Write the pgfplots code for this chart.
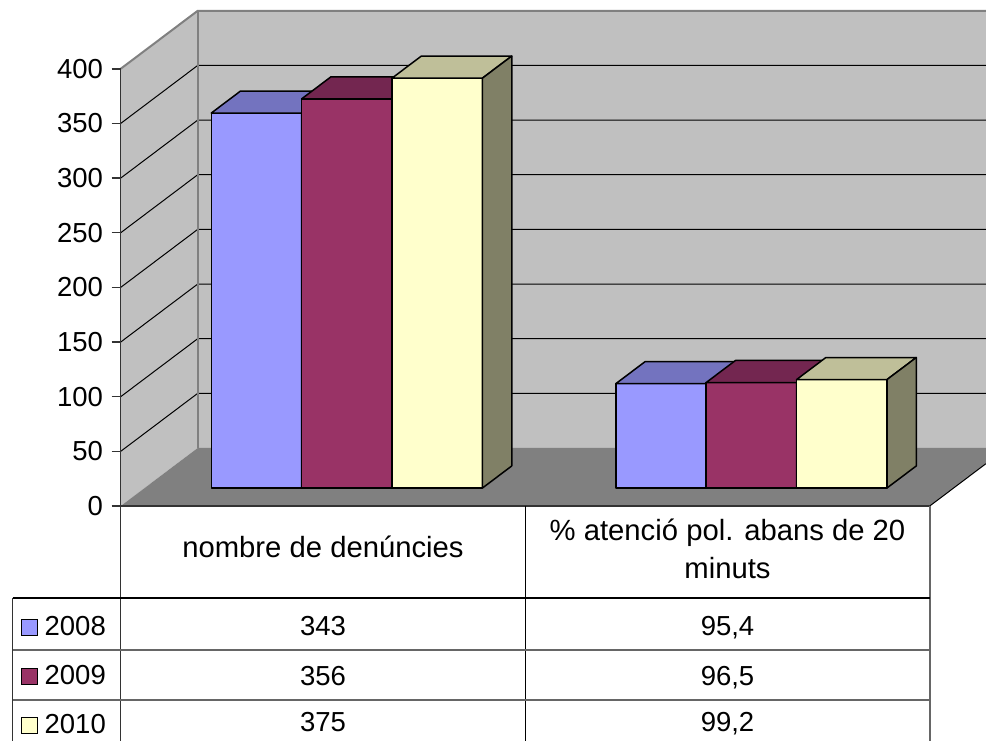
\documentclass[border=0pt]{standalone}
\usepackage{pgfplots}
\pgfplotsset{compat=1.18}
\usepackage{fontspec}
\setmainfont{Liberation Sans}

\definecolor{c08}{HTML}{9999FF}
\definecolor{c08t}{HTML}{7373BF}
\definecolor{c08s}{HTML}{5C5C99}
\definecolor{c09}{HTML}{993366}
\definecolor{c09t}{HTML}{732650}
\definecolor{c09s}{HTML}{4D1A33}
\definecolor{c10}{HTML}{FFFFCC}
\definecolor{c10t}{HTML}{BFBF99}
\definecolor{c10s}{HTML}{808066}
\definecolor{wall}{HTML}{C0C0C0}
\definecolor{floorc}{HTML}{808080}
\definecolor{edgec}{HTML}{808080}

\newcommand{\tfont}{\fontsize{11.7}{14}\selectfont}
\newcommand{\nfont}{\fontsize{11}{13}\selectfont}

% one 3D bar: x0, x1, value, front, top, side colour
\newcommand{\cuboid}[6]{%
  \addplot3[fill=#4, draw=black, line width=0.6pt, line join=round]
    coordinates {(#1,0.31,0) (#2,0.31,0) (#2,0.31,#3) (#1,0.31,#3)} -- cycle;
  \addplot3[fill=#5, draw=black, line width=0.6pt, line join=round]
    coordinates {(#1,0.31,#3) (#2,0.31,#3) (#2,0.69,#3) (#1,0.69,#3)} -- cycle;
  \addplot3[fill=#6, draw=black, line width=0.6pt, line join=round]
    coordinates {(#2,0.31,0) (#2,0.69,0) (#2,0.69,#3) (#2,0.31,#3)} -- cycle;
}

\begin{document}
\begin{tikzpicture}
% 3D part: walls, floor, grid and bars
\begin{axis}[
  anchor=origin, at={(0,0)},
  x={(161.8pt,0pt)}, y={(30.8pt,23.2pt)}, z={(0pt,0.4372pt)},
  xmin=-0.5, xmax=1.5, ymin=0, ymax=1, zmin=0, zmax=400,
  hide axis, clip=false,
]
\addplot3[fill=wall, draw=none] coordinates {(-0.5,0,0) (-0.5,1,0) (-0.5,1,400) (-0.5,0,400)} -- cycle;
\addplot3[fill=wall, draw=none] coordinates {(-0.5,1,0) (1.4487,1,0) (1.4487,1,400) (-0.5,1,400)} -- cycle;
\addplot3[fill=floorc, draw=none] coordinates {(-0.5,0,0) (1.5,0,0) (1.5,0.7273,0) (1.4487,1,0) (-0.5,1,0)} -- cycle;
\addplot3[black, line width=0.4pt] coordinates {(1.5,0,0) (1.5,0.7273,0)};
\pgfplotsinvokeforeach{50,100,...,350}{
  \addplot3[black, line width=0.4pt] coordinates {(-0.5,0,#1) (-0.5,1,#1) (1.4487,1,#1)};
}
\addplot3[edgec, line width=0.8pt] coordinates {(-0.5,0,400) (-0.5,1,400) (1.4487,1,400)};
\addplot3[edgec, line width=0.8pt] coordinates {(-0.5,1,0) (-0.5,1,400)};

% nombre de denuncies
\cuboid{-0.33525}{-0.11175}{343}{c08}{c08t}{c08s}
\cuboid{-0.11175}{0.11175}{356}{c09}{c09t}{c09s}
\cuboid{0.11175}{0.33525}{375}{c10}{c10t}{c10s}
% % atencio abans de 20 minuts
\cuboid{0.66475}{0.88825}{95.4}{c08}{c08t}{c08s}
\cuboid{0.88825}{1.11175}{96.5}{c09}{c09t}{c09s}
\cuboid{1.11175}{1.33525}{99.2}{c10}{c10t}{c10s}
\end{axis}

% front plane: value axis, data table and legend
\begin{axis}[
  anchor=origin, at={(0,0)},
  x={(161.8pt,0pt)}, y={(0pt,0.4372pt)},
  xmin=-0.5, xmax=1.5, ymin=0, ymax=400,
  axis x line*=bottom, axis y line*=left,
  axis line style={-, black!80, line width=0.6pt},
  every outer x axis line/.append style={-},
  every outer y axis line/.append style={-},
  xtick=\empty, ytick={0,50,...,400},
  tick align=outside, major tick length=3.6pt,
  tick style={black!80, line width=0.6pt},
  yticklabel style={font=\nfont},
  /pgf/number format/assume math mode=true,
  clip=false,
  legend image code/.code={\draw[#1, draw=black, line width=0.5pt] (0pt,-3.2pt) rectangle (6.4pt,3.2pt);},
  legend style={at={(axis cs:-0.7474,-156)}, anchor=west, draw=none, fill=none,
    inner sep=0pt, row sep=10.5pt, column sep=2.5pt, font=\nfont,
    nodes={inner sep=0pt}},
]
\addlegendimage{fill=c08}
\addlegendimage{fill=c09}
\addlegendimage{fill=c10}
\legend{2008,2009,2010}

\draw[black!80, line width=0.6pt] (axis cs:-0.5,0) -- (axis cs:-0.5,-215);
\draw[black, line width=0.6pt] (axis cs:0.5,0) -- (axis cs:0.5,-215);
\draw[black!60, line width=0.6pt] (axis cs:1.5,0) -- (axis cs:1.5,-215);
\draw[black, line width=0.6pt] (axis cs:-0.767,-84.2) -- (axis cs:1.5,-84.2);
\draw[black!60, line width=0.6pt] (axis cs:-0.767,-131.7) -- (axis cs:1.5,-131.7);
\draw[black!60, line width=0.6pt] (axis cs:-0.767,-177.5) -- (axis cs:1.5,-177.5);
\draw[black!80, line width=0.6pt] (axis cs:-0.767,-84.2) -- (axis cs:-0.767,-215);

\node[anchor=base, font=\tfont] at (axis cs:0,-47.3) {nombre de denúncies};
\node[anchor=base, font=\tfont] at (axis cs:1,-31.4) {\% atenció pol. abans de 20};
\node[anchor=base, font=\tfont] at (axis cs:1,-66.5) {minuts};

\node[anchor=base, font=\nfont] at (axis cs:0,-118.7) {343};
\node[anchor=base, font=\nfont] at (axis cs:0,-163.8) {356};
\node[anchor=base, font=\nfont] at (axis cs:0,-206.5) {375};
\node[anchor=base, font=\nfont] at (axis cs:1,-118.7) {95,4};
\node[anchor=base, font=\nfont] at (axis cs:1,-163.8) {96,5};
\node[anchor=base, font=\nfont] at (axis cs:1,-206.5) {99,2};

\coordinate (bbsw) at (axis cs:-0.7985,-215);
\coordinate (bbne) at (axis cs:1.639,462.9);
\end{axis}
\pgfresetboundingbox
\useasboundingbox (bbsw) rectangle (bbne);
\end{tikzpicture}
\end{document}
